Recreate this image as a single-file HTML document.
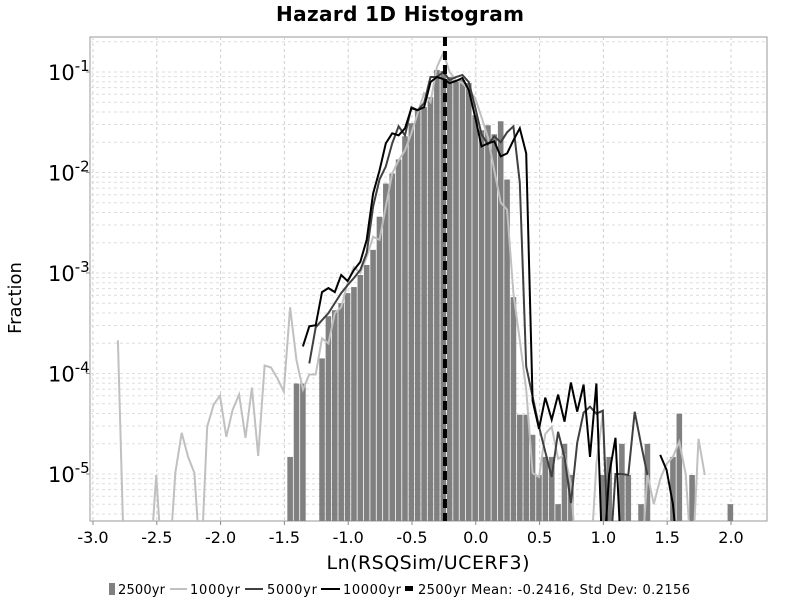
<!DOCTYPE html>
<html><head><meta charset="utf-8"><style>
body{margin:0;background:#fff;font-family:"Liberation Sans","DejaVu Sans",sans-serif;}
svg text{font-family:"DejaVu Sans","Liberation Sans",sans-serif;}
</style></head><body>
<svg id="chart" width="800" height="600" viewBox="0 0 800 600" xmlns="http://www.w3.org/2000/svg">
<defs><clipPath id="pc"><rect x="90" y="37" width="677" height="484"/></clipPath></defs>
<text x="400" y="21" text-anchor="middle" font-size="20" font-weight="bold" textLength="248">Hazard 1D Histogram</text>
<rect x="90" y="37" width="677" height="484" fill="#fff" stroke="#999"/>
<g id="grid"></g>
<g id="bars" clip-path="url(#pc)"></g>
<g id="lines" clip-path="url(#pc)"></g>
<g id="axes"></g>
<text x="428" y="569" text-anchor="middle" font-size="19" textLength="203">Ln(RSQSim/UCERF3)</text>
<text transform="translate(21,298) rotate(-90)" text-anchor="middle" font-size="18">Fraction</text>
<g font-size="13">
<g><rect x="109" y="583" width="6" height="12" fill="#808080"/><text x="118" y="594" textLength="47">2500yr</text></g>
<g><line x1="170" y1="589" x2="187" y2="589" stroke="#c0c0c0" stroke-width="2"/><text x="190" y="594" textLength="50">1000yr</text></g>
<g><line x1="245" y1="589" x2="263" y2="589" stroke="#404040" stroke-width="2"/><text x="267" y="594" textLength="50">5000yr</text></g>
<g><line x1="321" y1="589" x2="340" y2="589" stroke="#000" stroke-width="2"/><text x="343" y="594" textLength="58">10000yr</text></g>
<g><rect x="405" y="586" width="8" height="5" fill="#000"/><text x="418" y="594" textLength="272">2500yr Mean: -0.2416, Std Dev: 0.2156</text></g>
</g>
</svg>
<script>
// data (log10 of fraction); -9 = zero (drops to bottom), null = no point
const xStart = -2.805, binW = 0.05;
const barStartIndex = 27;
const bars2500 = [-4.83,-4.10,-4.10,null,null,-3.85,-3.43,-3.37,-3.30,-3.20,-3.14,-3.02,-2.92,-2.77,-2.44,-2.11,-2.01,-1.87,-1.64,-1.51,-1.38,-1.35,-1.25,-0.98,-0.99,-1.05,-1.08,-1.08,-1.11,-1.43,-1.58,-1.53,-1.62,-1.49,-2.07,-3.24,-4.41,-4.41,-4.61,-5.01,-4.83,-4.83,-5.3,-4.70,-5.01,null,null,null,null,-5.01,-4.83,null,-4.70,-5.01,null,-5.3,-4.70,null,null,null,-4.83,-4.40,null,-5.01,null,null,null,null,null,-5.3];
const line1000 = [-3.67,-9,-9,-9,-9,-9,-5.01,-9,-9,-4.99,-4.59,-4.83,-4.99,-9,-4.53,-4.31,-4.22,-4.63,-4.36,-4.21,-4.64,-4.14,-4.82,-3.92,-3.94,-4.05,-4.18,-3.34,-3.87,-4.16,-4.01,-4.01,-3.65,-3.70,-3.40,-3.34,-3.10,-2.94,-3.0,-2.84,-2.64,-2.67,-2.34,-2.01,-1.88,-1.78,-1.61,-1.41,-1.21,-1.30,-0.95,-0.81,-1.0,-1.08,-1.11,-1.18,-1.26,-1.45,-1.65,-1.98,-2.30,-2.37,-3.20,-3.67,-4.16,-4.99,-5.03,-4.6,-4.53,-4.85,-4.81,-5.1,-9,-9,-9,-4.9,-4.4,-9,-9,-9,-9,-9,-9,-5.0,-5.3,-5.05,-4.9,-4.83,-4.68,-5.0,-9,-4.65,-5.01];
const line5000 = [null,null,null,null,null,null,null,null,null,null,null,null,null,null,null,null,null,null,null,null,null,null,null,null,null,null,null,null,null,null,-3.90,-3.54,-3.47,-3.40,-3.30,-3.20,-3.12,-3.05,-2.97,-2.80,-2.34,-2.07,-1.94,-1.71,-1.54,-1.63,-1.35,-1.38,-1.31,-1.05,-1.05,-1.00,-1.08,-1.05,-1.03,-1.10,-1.35,-1.62,-1.72,-1.64,-1.70,-1.60,-1.54,-2.1,-3.93,-4.23,-4.53,-4.78,-5.03,-4.58,-4.83,-5.29,-4.69,-4.39,-4.33,-4.40,-4.37,-9,-5.0,-5.0,-5.01,-4.38,-4.7,-5.01];
const line10000 = [null,null,null,null,null,null,null,null,null,null,null,null,null,null,null,null,null,null,null,null,null,null,null,null,null,null,null,null,null,-3.73,-3.53,-3.52,-3.19,-3.15,-3.19,-3.02,-3.08,-2.97,-2.89,-2.67,-2.21,-1.98,-1.71,-1.61,-1.63,-1.56,-1.36,-1.38,-1.35,-1.10,-1.05,-1.07,-1.11,-1.09,-1.06,-1.18,-1.45,-1.74,-1.71,-1.69,-1.84,-1.81,-1.68,-1.56,-1.81,-4.27,-4.55,-4.24,-4.46,-4.21,-4.48,-4.09,-4.38,-4.11,-4.83,-4.10,-9,-5.01,-4.64,-9,null,null,null,null,null,-4.81,-4.96,-5.3,-9];
const meanValue = -0.2416;
const xTicks = [-3.0,-2.5,-2.0,-1.5,-1.0,-0.5,0.0,0.5,1.0,1.5,2.0];
const yTickExps = [-1,-2,-3,-4,-5];

const NS='http://www.w3.org/2000/svg';
const X0=90,X1=767,Y0=37,Y1=521;
const xmin=-3.0235, xmax=xmin+(X1-X0)/127.6;
const lmax=-1+35/100.5, lmin=-1-449/100.5;
function xs(v){return X0+(v-xmin)/(xmax-xmin)*(X1-X0);}
function ys(l){if(l<lmin-0.5)l=lmin-0.5;return Y1-(l-lmin)/(lmax-lmin)*(Y1-Y0);}
function mk(tag,attrs,parent){const e=document.createElementNS(NS,tag);for(const k in attrs)e.setAttribute(k,attrs[k]);parent.appendChild(e);return e;}
const grid=document.getElementById('grid'),axes=document.getElementById('axes');
for(let d=-6;d<=-1;d++){for(let m=1;m<=9;m++){const l=d+Math.log10(m);if(l<lmin||l>lmax)continue;const y=ys(l);
 const g=mk('line',{x1:X0,x2:X1,y1:y,y2:y,stroke:'#dddddd','stroke-width':1,'stroke-dasharray':'3,3'},grid);
 
 }}
xTicks.forEach(t=>{const x=xs(t);
 const g=mk('line',{x1:x,x2:x,y1:Y0,y2:Y1,stroke:'#d0d0d0','stroke-width':1,'stroke-dasharray':'3,3'},grid);
 
 
 mk('line',{x1:x,x2:x,y1:Y1,y2:Y1+4,stroke:'#888'},axes);
 const tx=mk('text',{x:x,y:543,'text-anchor':'middle','font-size':16},axes);
 tx.textContent=t.toFixed(1);
 
 });
yTickExps.forEach(e=>{const y=ys(e);
 mk('line',{x1:X0-4,x2:X0,y1:y,y2:y,stroke:'#888'},axes);
 const tx=mk('text',{x:48,y:y+8,'font-size':21},axes);
 tx.textContent='10';
 const sp=mk('tspan',{dy:-9,'font-size':15},tx);sp.textContent=String(e);
 
 });
const bg=document.getElementById('bars');
bars2500.forEach((v,i)=>{if(v===null)return;const c=xStart+binW*(barStartIndex+i);
 const xl=xs(c-binW/2)+0.4, xr=xs(c+binW/2)-0.4, y=ys(v);
 const r=mk('rect',{x:xl,y:y,width:xr-xl,height:Y1-y,fill:'#808080'},bg);
 
 });
const lg=document.getElementById('lines');
function drawLine(arr,color,name){let d='',pen=false;
 arr.forEach((v,k)=>{if(v===null){pen=false;return;}const x=xs(xStart+binW*k),y=ys(v);d+=(pen?'L':'M')+x.toFixed(1)+','+y.toFixed(1);pen=true;});
 const p=mk('path',{d:d,fill:'none',stroke:color,'stroke-width':2,'stroke-linejoin':'miter'},lg);
 
 }
drawLine(line1000,'#c0c0c0','line-1000yr');
drawLine(line5000,'#404040','line-5000yr');
drawLine(line10000,'#000000','line-10000yr');
const mx=xs(meanValue);
const ml=mk('line',{x1:mx,x2:mx,y1:Y0,y2:Y1,stroke:'#000','stroke-width':4,'stroke-dasharray':'9,5'},lg);


</script>
</body></html>
